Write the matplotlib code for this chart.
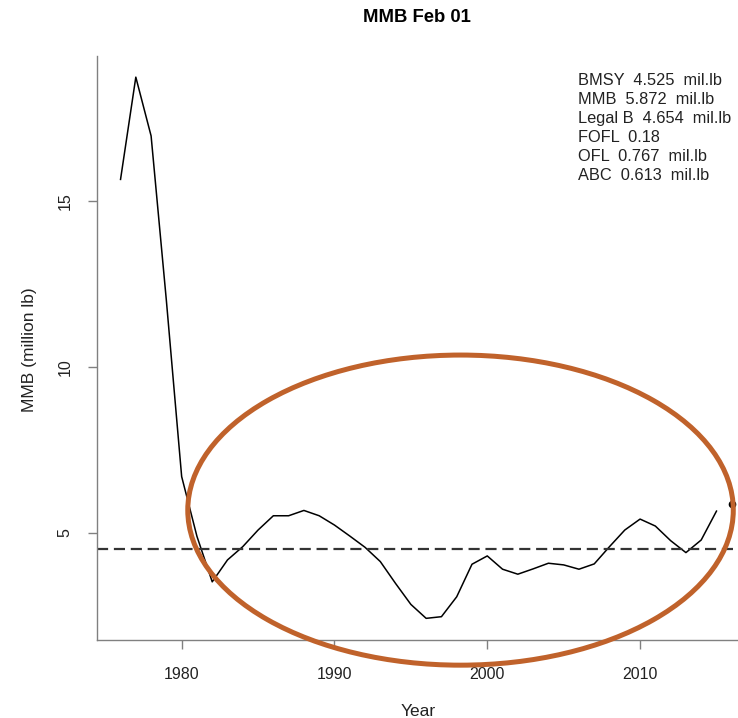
import matplotlib
matplotlib.use('Agg')
import matplotlib.pyplot as plt
from matplotlib.patches import Ellipse

# ---- data ----
years = list(range(1976, 2016))
mmb = [15.65, 18.73, 16.96, 12.0, 6.7, 4.9, 3.53, 4.19, 4.59, 5.09,
       5.52, 5.52, 5.68, 5.52, 5.24, 4.91, 4.57, 4.14, 3.48, 2.85,
       2.43, 2.48, 3.08, 4.06, 4.31, 3.91, 3.76, 3.92, 4.09, 4.04,
       3.91, 4.07, 4.59, 5.09, 5.42, 5.21, 4.77, 4.41, 4.79, 5.66]
proj_year = [2016]
proj_mmb = [5.872]
bmsy = 4.525
legend_lines = ["BMSY  4.525  mil.lb", "MMB  5.872  mil.lb", "Legal B  4.654  mil.lb",
                "FOFL  0.18", "OFL  0.767  mil.lb", "ABC  0.613  mil.lb"]
xticks = [1980, 1990, 2000, 2010]
yticks = [5, 10, 15]
title = "MMB Feb 01"
xlabel = "Year"
ylabel = "MMB (million lb)"

plt.rcParams['font.family'] = ['Liberation Sans', 'DejaVu Sans']

W, H = 738, 718
fig = plt.figure(figsize=(W / 100, H / 100), dpi=100)
ax = fig.add_axes([96.7 / W, 1 - 640 / H, (755.6 - 96.7) / W, (640 - 55.5) / H])

ax.plot(years, mmb, color='black', lw=1.1)
ax.plot(proj_year, proj_mmb, 'o', color='black', ms=4.5, clip_on=False)
ax.axhline(bmsy, color='#333333', lw=1.6, ls=(0, (5, 2.6)))

ax.set_xlim(1974.44, 2017.56)
ax.set_ylim(1.778, 19.382)
ax.set_xticks(xticks)
ax.set_yticks(yticks)

for s in ['top', 'right']:
    ax.spines[s].set_visible(False)
for s in ['left', 'bottom']:
    ax.spines[s].set_color('#808080')
    ax.spines[s].set_linewidth(1.0)

ax.tick_params(axis='both', length=6.8, width=1.0, color='#808080', labelsize=11.5,
               labelcolor='#222222')
ax.tick_params(axis='x', pad=12.5)
ax.tick_params(axis='y', pad=10.5, labelrotation=90)
for lab in ax.get_yticklabels():
    lab.set_va('center')

# annotation ellipse
ell = Ellipse((1998.25, 5.69), 35.7, 9.34, fill=False, edgecolor='#C0622B', lw=3.6,
              clip_on=False, zorder=5)
ax.add_patch(ell)

# titles and labels
fig.text(417 / W, 1 - 21.7 / H, title, ha='center', va='baseline', fontsize=13.3,
         fontweight='bold')
fig.text(418 / W, 1 - 716.5 / H, xlabel, ha='center', va='baseline', fontsize=12.5,
         color='#222222')
fig.text(34 / W, 1 - 350 / H, ylabel, ha='center', va='baseline', rotation=90,
         rotation_mode='anchor', fontsize=12.5, color='#222222')

# legend text block
for i, line in enumerate(legend_lines):
    fig.text(578.5 / W, 1 - (85 + 18.9 * i) / H, line, ha='left', va='baseline',
             fontsize=11.8, color='#222222')

fig.savefig('out.png', dpi=100)
